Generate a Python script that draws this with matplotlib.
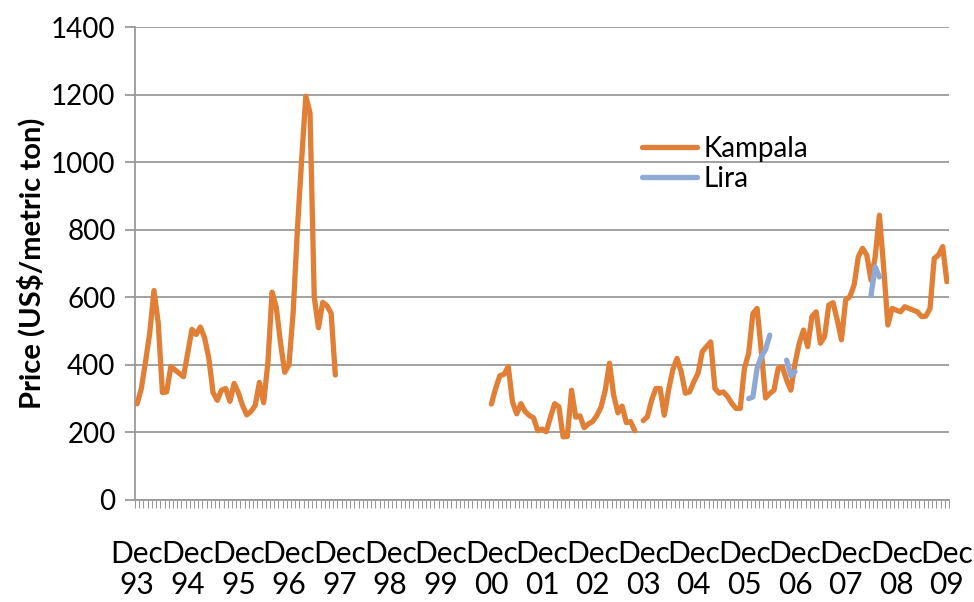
import numpy as np
import matplotlib.pyplot as plt

nan = np.nan

# monthly prices, Dec 1993 .. Dec 2009 (193 months), US$/metric ton
kampala = [
    285, 330, 410, 495, 620, 525, 318, 320, 395, 385, 375, 365,
    435, 505, 490, 512, 480, 420, 318, 295, 325, 330, 292, 345,
    318, 280, 252, 262, 280, 348, 288, 405, 615, 570, 465, 378,
    400, 555, 800, 1005, 1195, 1145, 600, 510, 585, 575, 553, 370,
] + [nan] * 36 + [
    284, 330, 368, 372, 395, 290, 255, 285, 262, 250, 243, 205,
    210, 202, 245, 285, 276, 187, 188, 325, 245, 249, 214, 225,
    232, 250, 275, 325, 405, 310, 258, 278, 229, 232, 205, nan,
    235, 247, 296, 330, 330, 251, 325, 385, 419, 380, 316, 320,
    350, 375, 439, 454, 468, 330, 316, 320, 306, 286, 271, 271,
    390, 434, 552, 567, 440, 302, 315, 325, 390, 394, 355, 325,
    405, 464, 503, 454, 543, 557, 464, 484, 577, 584, 533, 474,
    592, 602, 636, 720, 745, 725, 651, 720, 843, 690, 518, 567,
    562, 557, 572, 567, 562, 557, 543, 544, 567, 715, 725, 750,
    646,
]

lira = [nan] * 145 + [300, 305, 390, 425, 445, 488, nan, nan, nan,
                      414, 368, 380] + [nan] * 17 + [605, 690, 660] + [nan] * 16

year_labels = ["93", "94", "95", "96", "97", "98", "99", "00", "01",
               "02", "03", "04", "05", "06", "07", "08", "09"]

months = np.arange(len(kampala))

plt.rcParams["font.family"] = ["Lato", "DejaVu Sans"]

fig = plt.figure(figsize=(9.74, 6.02), dpi=100)
ax = fig.add_axes([135 / 974, 102 / 602, 814 / 974, 473 / 602])

ax.plot(months, kampala, color="#E07F35", lw=3.8, solid_capstyle="round",
        solid_joinstyle="round", label="Kampala", zorder=3)
ax.plot(months, lira, color="#8EA9D6", lw=3.8, solid_capstyle="round",
        solid_joinstyle="round", label="Lira", zorder=4)

ax.set_xlim(-0.5, len(kampala) - 0.5)
ax.set_ylim(0, 1400)
ax.set_yticks(range(0, 1401, 200))
ax.grid(axis="y", color="#9a9a9a", lw=1.3, zorder=0)

ax.set_xticks(np.arange(0, len(kampala), 12))
ax.set_xticklabels(["Dec\n" + y for y in year_labels], linespacing=1.12)
ax.set_xticks(np.arange(-0.5, len(kampala), 1), minor=True)
ax.tick_params(axis="x", which="major", length=0, pad=29, labelsize=21.5)
ax.tick_params(axis="x", which="minor", length=6, color="#9a9a9a", width=0.8)
ax.tick_params(axis="y", length=7, color="#9a9a9a", width=1.3, labelsize=20, pad=7)

for s in ["top", "right"]:
    ax.spines[s].set_visible(False)
for s in ["left", "bottom"]:
    ax.spines[s].set_color("#9a9a9a")
    ax.spines[s].set_linewidth(1.3)

ax.set_ylabel("Price (US$/metric ton)", fontsize=21, fontweight="bold", labelpad=4)

ax.legend(loc="upper left", bbox_to_anchor=(628 / 974, 1 - 122 / 602),
          bbox_transform=fig.transFigure, frameon=False, fontsize=20,
          handlelength=2.0, borderpad=0, labelspacing=0.15, handletextpad=0.2)

fig.savefig("out.png", dpi=100)
